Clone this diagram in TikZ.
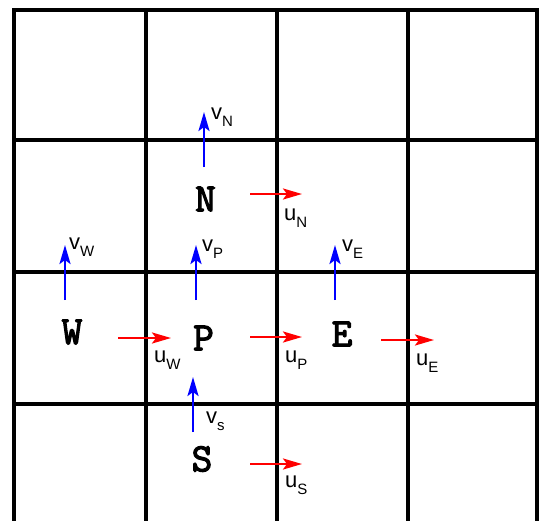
\documentclass[tikz,border=0pt]{standalone}
\usepackage{fontspec}
\setmainfont{Liberation Sans}
\newfontfamily\cellfont[FakeBold=3]{Latin Modern Mono}
\usetikzlibrary{arrows.meta}
\definecolor{vblue}{RGB}{0,0,255}
\definecolor{ured}{RGB}{255,0,0}
\tikzset{
  gridline/.style={line width=4pt, black},
  cell/.style={font=\cellfont\fontsize{40}{40}\selectfont, inner sep=0pt},
  varrow/.style={vblue, line width=2.5pt, -{Stealth[length=19pt,width=11pt,inset=4pt]}},
  uarrow/.style={ured, line width=2.5pt, -{Stealth[length=19pt,width=11pt,inset=4pt]}},
  lbl/.style={anchor=base west, inner sep=0pt, font=\fontsize{22}{22}\selectfont},
}
\newcommand{\lab}[2]{#1\raisebox{-7.5pt}{\fontsize{15}{15}\selectfont #2}}
\begin{document}
\begin{tikzpicture}[x={(1pt,0)}, y={(0,-1pt)}]
\useasboundingbox (0,0) rectangle (540,520);
% grid
\draw[gridline, line join=miter] (14,522) -- (14,10) -- (537,10) -- (537,522);
\foreach \x in {145.5,277,408} \draw[gridline] (\x,10) -- (\x,522);
\foreach \y in {140,272,404} \draw[gridline] (14,\y) -- (537,\y);
% cell letters
\node[cell] (N) at (205.5,199) {N};
\node[cell] (W) at (72,332) {W};
\node[cell] (P) at (203.5,338) {P};
\node[cell] (E) at (342,334) {E};
\node[cell] (S) at (202,459) {S};
% v arrows
\coordinate (vN0) at (204,167); \coordinate (vN1) at (204,112);
\coordinate (vW0) at (65,300);  \coordinate (vW1) at (65,245);
\coordinate (vP0) at (196,300); \coordinate (vP1) at (196,245);
\coordinate (vE0) at (335,300); \coordinate (vE1) at (335,245);
\coordinate (vS0) at (193,432); \coordinate (vS1) at (193,377);
\foreach \a in {vN,vW,vP,vE,vS} \draw[varrow] (\a0) -- (\a1);
% u arrows
\coordinate (uN0) at (250,194); \coordinate (uN1) at (302,194);
\coordinate (uW0) at (118,338); \coordinate (uW1) at (171,338);
\coordinate (uP0) at (250,337); \coordinate (uP1) at (302,337);
\coordinate (uE0) at (381,340); \coordinate (uE1) at (434,340);
\coordinate (uS0) at (250,464); \coordinate (uS1) at (302,464);
\foreach \a in {uN,uW,uP,uE,uS} \draw[uarrow] (\a0) -- (\a1);
% labels
\node[lbl] (lvN) at (211,119) {\lab{v}{N}};
\node[lbl] (lvW) at (69,249) {\lab{v}{W}};
\node[lbl] (lvP) at (202,251) {\lab{v}{P}};
\node[lbl] (lvE) at (342,251) {\lab{v}{E}};
\node[lbl] (lvS) at (206,423) {\lab{v}{s}};
\node[lbl] (luN) at (284,220) {\lab{u}{N}};
\node[lbl] (luW) at (154,362) {\lab{u}{W}};
\node[lbl] (luP) at (285,362) {\lab{u}{P}};
\node[lbl] (luE) at (416,365) {\lab{u}{E}};
\node[lbl] (luS) at (285,487) {\lab{u}{S}};
\end{tikzpicture}
\end{document}
